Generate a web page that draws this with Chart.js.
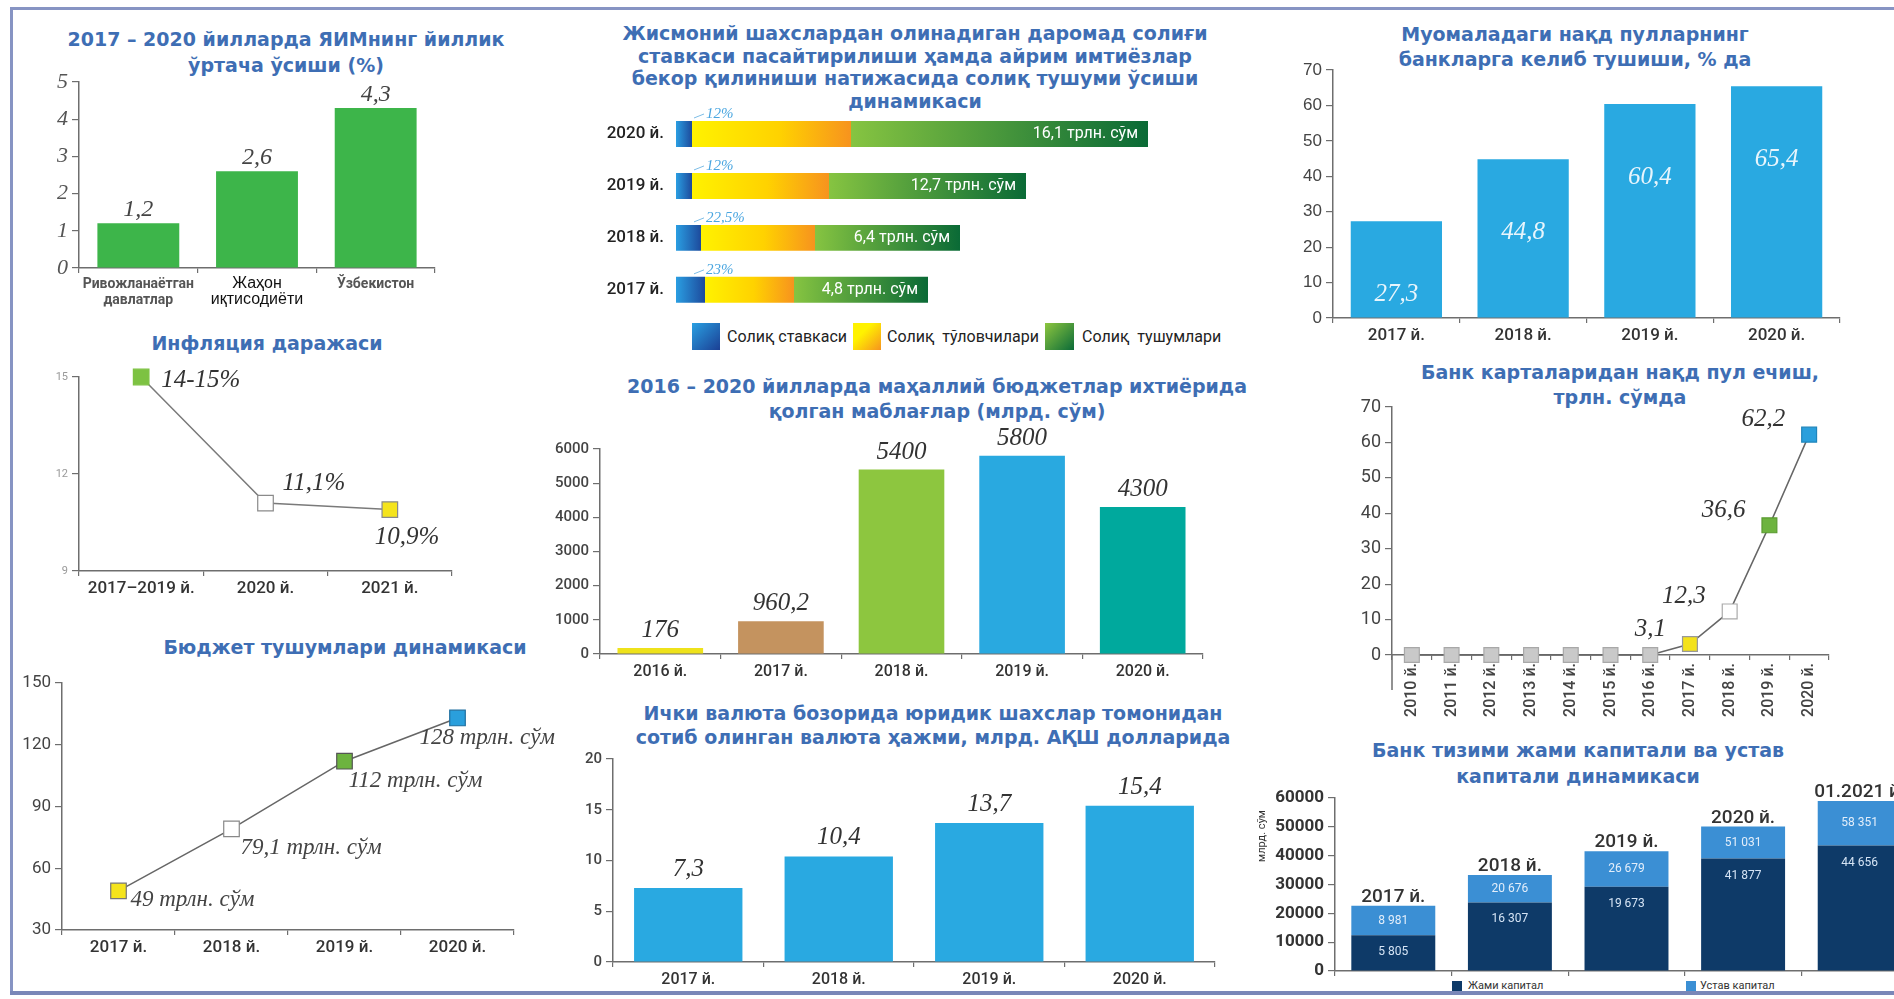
<!DOCTYPE html>
<html>
<head>
<meta charset="utf-8">
<script src="https://cdn.jsdelivr.net/npm/chart.js@4.4.0/dist/chart.umd.min.js"></script>
<style>
  html, body { margin: 0; padding: 0; background: #fff; }
  body { position: relative; width: 1894px; height: 999px; overflow: hidden; }
  .box { position: absolute; }
  .title { position: absolute; width: 800px; text-align: center; font: bold 19px "DejaVu Sans", sans-serif; color: #3e6eb4; white-space: nowrap; }
  .frame { position: absolute; background: #8794c3; }
  .sq { position: absolute; }
  .lg { position: absolute; font: 16px Roboto, sans-serif; color: #222; white-space: pre; }
  .lg2 { position: absolute; font: 11px Roboto, sans-serif; color: #333; }
</style>
</head>
<body>
<div class="frame" style="left:10px;top:7px;width:1884px;height:3px;"></div>
<div class="frame" style="left:10px;top:7px;width:3px;height:988px;"></div>
<div class="frame" style="left:10px;top:991px;width:1884px;height:4px;background:#7a87b8;"></div>

<div class="title" style="left:-114px;top:26px;line-height:26px;">2017 – 2020 йилларда ЯИМнинг йиллик<br>ўртача ўсиши (%)</div>
<div class="title" style="left:-133px;top:330px;line-height:26px;">Инфляция даражаси</div>
<div class="title" style="left:-55px;top:634px;line-height:26px;">Бюджет тушумлари динамикаси</div>
<div class="title" style="left:515px;top:22px;line-height:22.5px;">Жисмоний шахслардан олинадиган даромад солиғи<br>ставкаси пасайтирилиши ҳамда айрим имтиёзлар<br>бекор қилиниши натижасида солиқ тушуми ўсиши<br>динамикаси</div>
<div class="title" style="left:537px;top:374px;line-height:25px;">2016 – 2020 йилларда маҳаллий бюджетлар ихтиёрида<br>қолган маблағлар (млрд. сўм)</div>
<div class="title" style="left:533px;top:701px;line-height:24px;">Ички валюта бозорида юридик шахслар томонидан<br>сотиб олинган валюта ҳажми, млрд.  АҚШ долларида</div>
<div class="title" style="left:1175px;top:22px;line-height:25px;">Муомаладаги нақд пулларнинг<br>банкларга келиб тушиши, % да</div>
<div class="title" style="left:1220px;top:360px;line-height:25px;">Банк карталаридан нақд пул ечиш,<br>трлн.  сўмда</div>
<div class="title" style="left:1178px;top:737px;line-height:26px;">Банк тизими жами капитали ва устав<br>капитали динамикаси</div>

<!-- tax chart legend -->
<div class="sq" style="left:692px;top:323px;width:28px;height:27px;background:linear-gradient(135deg,#2aa0e2,#1b3f94);"></div>
<div class="lg" style="left:727px;top:327px;">Солиқ ставкаси</div>
<div class="sq" style="left:853px;top:323px;width:28px;height:27px;background:linear-gradient(135deg,#fff200 35%,#f7931e);"></div>
<div class="lg" style="left:887px;top:327px;">Солиқ  тўловчилари</div>
<div class="sq" style="left:1045px;top:323px;width:29px;height:27px;background:linear-gradient(135deg,#8dc63f,#0b6b38);"></div>
<div class="lg" style="left:1082px;top:327px;">Солиқ  тушумлари</div>

<!-- capital chart legend -->
<div class="sq" style="left:1452px;top:981px;width:10px;height:10px;background:#0e3a68;"></div>
<div class="lg2" style="left:1468px;top:979px;">Жами капитал</div>
<div class="sq" style="left:1686px;top:981px;width:10px;height:10px;background:#3b8fd4;"></div>
<div class="lg2" style="left:1700px;top:979px;">Устав капитал</div>

<div class="box" style="left:15px;top:40px;width:440px;height:280px;"><canvas id="gdp"></canvas></div>
<div class="box" style="left:15px;top:355px;width:460px;height:250px;"><canvas id="infl"></canvas></div>
<div class="box" style="left:10px;top:660px;width:560px;height:305px;"><canvas id="bud"></canvas></div>
<div class="box" style="left:590px;top:90px;width:600px;height:240px;"><canvas id="tax"></canvas></div>
<div class="box" style="left:540px;top:420px;width:680px;height:270px;"><canvas id="local"></canvas></div>
<div class="box" style="left:555px;top:745px;width:675px;height:254px;"><canvas id="fx"></canvas></div>
<div class="box" style="left:1270px;top:50px;width:590px;height:300px;"><canvas id="cash"></canvas></div>
<div class="box" style="left:1280px;top:385px;width:570px;height:350px;"><canvas id="card"></canvas></div>
<div class="box" style="left:1250px;top:760px;width:680px;height:239px;"><canvas id="cap"></canvas></div>

<script>
// ---- data ----
const gdpCats = [['Ривожланаётган', 'давлатлар'], ['Жаҳон', 'иқтисодиёти'], ['Ўзбекистон']];
const gdpValues = [1.2, 2.6, 4.3];
const gdpLabels = ['1,2', '2,6', '4,3'];

const inflCats = ['2017–2019 й.', '2020 й.', '2021 й.'];
const inflValues = [15, 11.1, 10.9];
const inflLabels = ['14-15%', '11,1%', '10,9%'];

const budCats = ['2017 й.', '2018 й.', '2019 й.', '2020 й.'];
const budValues = [49, 79.1, 112, 133];
const budLabels = ['49 трлн. сўм', '79,1 трлн. сўм', '112 трлн. сўм', '128 трлн. сўм'];

// the tax bars have no axis: lengths are read off the picture
const taxYears = ['2020 й.', '2019 й.', '2018 й.', '2017 й.'];
const taxRate = [16, 16, 25, 29];
const taxPayers = [159, 137, 114, 89];
const taxRevenue = [297, 197, 145, 134];
const taxRateLabels = ['12%', '12%', '22,5%', '23%'];
const taxRevenueLabels = ['16,1 трлн. сўм', '12,7 трлн. сўм', '6,4 трлн. сўм', '4,8 трлн. сўм'];

const localYears = ['2016 й.', '2017 й.', '2018 й.', '2019 й.', '2020 й.'];
const localValues = [176, 960.2, 5400, 5800, 4300];
const localLabels = ['176', '960,2', '5400', '5800', '4300'];

const fxYears = ['2017 й.', '2018 й.', '2019 й.', '2020 й.'];
const fxValues = [7.3, 10.4, 13.7, 15.4];
const fxLabels = ['7,3', '10,4', '13,7', '15,4'];

const cashYears = ['2017 й.', '2018 й.', '2019 й.', '2020 й.'];
const cashValues = [27.3, 44.8, 60.4, 65.4];
const cashLabels = ['27,3', '44,8', '60,4', '65,4'];

const cardYears = ['2010 й.', '2011 й.', '2012 й.', '2013 й.', '2014 й.', '2015 й.', '2016 й.', '2017 й.', '2018 й.', '2019 й.', '2020 й.'];
const cardValues = [0, 0, 0, 0, 0, 0, 0, 3.1, 12.3, 36.6, 62.2];
const cardLabels = [null, null, null, null, null, null, null, '3,1', '12,3', '36,6', '62,2'];

const capYears = ['2017 й.', '2018 й.', '2019 й.', '2020 й.', '01.2021 й.'];
const capTotal = [12400, 23800, 29200, 39000, 43500];
const capCharter = [10200, 9500, 12300, 11100, 15500];
const capTotalLabels = ['5 805', '16 307', '19 673', '41 877', '44 656'];
const capCharterLabels = ['8 981', '20 676', '26 679', '51 031', '58 351'];

// ---- common ----
const AX = '#6e6e6e';
const SANS = 'Roboto, "Noto Sans", sans-serif';
const SERIF = '"Liberation Serif", "DejaVu Serif", serif';

Chart.defaults.animation = false;
Chart.defaults.responsive = true;
Chart.defaults.maintainAspectRatio = false;
Chart.defaults.events = [];
Chart.defaults.plugins.legend.display = false;
Chart.defaults.plugins.tooltip.enabled = false;
Chart.defaults.font.family = SANS;

function fixW(w) { return s => { s.width = w; }; }
function fixH(h) { return s => { s.height = h; }; }

function catAxis(h, font, color, extra) {
    return Object.assign({
        afterFit: fixH(h),
        grid: { display: true, drawOnChartArea: false, tickLength: 5, color: AX, lineWidth: 1.2, offset: true },
        border: { display: true, color: AX, width: 1.5 },
        ticks: { font: font, color: color, padding: 3, autoSkip: false, maxRotation: 0 }
    }, extra || {});
}

function valAxis(w, min, max, step, font, color) {
    return {
        min: min, max: max, afterFit: fixW(w),
        grid: { display: true, drawOnChartArea: false, tickLength: 7, color: AX, lineWidth: 1.2 },
        border: { display: true, color: AX, width: 1.5 },
        ticks: { stepSize: step, font: font, color: color, padding: 4, callback: v => String(v) }
    };
}

// text next to every element of one dataset; place(el, i) -> {x, y, align, base}
function labelPlugin(id, texts, font, color, place, dsIndex) {
    return {
        id: id,
        afterDatasetsDraw(chart) {
            const ctx = chart.ctx;
            const meta = chart.getDatasetMeta(dsIndex || 0);
            ctx.save();
            ctx.font = font;
            ctx.fillStyle = color;
            meta.data.forEach((el, i) => {
                if (texts[i] == null) return;
                const p = place(el, i);
                ctx.textAlign = p.align || 'center';
                ctx.textBaseline = p.base || 'alphabetic';
                ctx.fillText(texts[i], p.x, p.y);
            });
            ctx.restore();
        }
    };
}

const tickYear = { family: SANS, size: 17, weight: '500' };

// ---- 1. GDP growth ----
new Chart(document.getElementById('gdp'), {
    type: 'bar',
    data: { labels: gdpCats, datasets: [{ data: gdpValues, backgroundColor: '#3db54a', categoryPercentage: 1, barPercentage: 0.69 }] },
    options: {
        layout: { padding: { top: 42, right: 20, left: 0, bottom: 0 } },
        scales: {
            x: catAxis(52,
                c => c.index === 1 ? { family: '"Liberation Sans", sans-serif', size: 16, weight: 'normal', lineHeight: 1.0 }
                                   : { family: SANS, size: 14, weight: 'bold', lineHeight: 1.15 },
                c => c.index === 1 ? '#111' : '#555'),
            y: valAxis(64, 0, 5, 1, { family: SERIF, size: 22, style: 'italic' }, '#555')
        }
    },
    plugins: [labelPlugin('gdpVal', gdpLabels, 'italic 24px ' + SERIF, '#444', el => ({ x: el.x, y: el.y - 7 }))]
});

// ---- 2. Inflation ----
const inflPlace = [[20, 3, 'left'], [17, -20, 'left'], [-15, 28, 'left']];
new Chart(document.getElementById('infl'), {
    type: 'line',
    data: {
        labels: inflCats,
        datasets: [{
            data: inflValues, borderColor: '#7a7a7a', borderWidth: 1.5, clip: false,
            pointStyle: 'rect', pointRadius: 11, pointBorderWidth: 1.2,
            pointBackgroundColor: ['#7dc242', '#ffffff', '#f5e41c'],
            pointBorderColor: ['#7dc242', '#8a8a8a', '#8a8a8a']
        }]
    },
    options: {
        layout: { padding: { top: 22, right: 23, left: 0, bottom: 0 } },
        scales: {
            x: catAxis(34, tickYear, '#333', { offset: true }),
            y: valAxis(64, 9, 15, 3, { family: SANS, size: 11 }, '#999')
        }
    },
    plugins: [labelPlugin('inflVal', inflLabels, 'italic 25px ' + SERIF, '#333', (el, i) => ({
        x: el.x + inflPlace[i][0], y: el.y + inflPlace[i][1], align: inflPlace[i][2], base: 'middle'
    }))]
});

// ---- 3. Budget revenues ----
const budPlace = [[12, 9], [9, 19], [4, 20], [-38, 20]];
new Chart(document.getElementById('bud'), {
    type: 'line',
    data: {
        labels: budCats,
        datasets: [{
            data: budValues, borderColor: '#666', borderWidth: 1.5, clip: false,
            pointStyle: 'rect', pointRadius: 11, pointBorderWidth: 1.2,
            pointBackgroundColor: ['#f5e41c', '#ffffff', '#6db33f', '#2a9fdc'],
            pointBorderColor: ['#777', '#888', '#555', '#1f6f9f']
        }]
    },
    options: {
        layout: { padding: { top: 23, right: 56, left: 0, bottom: 0 } },
        scales: {
            x: catAxis(35, tickYear, '#333', { offset: true }),
            y: valAxis(52, 30, 150, 30, { family: SANS, size: 17 }, '#444')
        }
    },
    plugins: [labelPlugin('budVal', budLabels, 'italic 23px ' + SERIF, '#444', (el, i) => ({
        x: el.x + budPlace[i][0], y: el.y + budPlace[i][1], align: 'left', base: 'middle'
    }))]
});

// ---- 4. Income tax ----
const taxPayStart = taxRate.slice();
const taxRevStart = taxRate.map((v, i) => v + taxPayers[i]);
function segGrad(stops, starts, lens) {
    return c => {
        const chart = c.chart;
        if (!chart.chartArea) return stops[0][1];
        const xs = chart.scales.x;
        const i = c.dataIndex;
        const x0 = xs.getPixelForValue(starts[i]);
        const x1 = xs.getPixelForValue(starts[i] + lens[i]);
        const g = chart.ctx.createLinearGradient(x0, 0, x1, 0);
        stops.forEach(s => g.addColorStop(s[0], s[1]));
        return g;
    };
}
new Chart(document.getElementById('tax'), {
    type: 'bar',
    data: {
        labels: taxYears,
        datasets: [
            { data: taxRate, backgroundColor: segGrad([[0, '#2a9ee2'], [1, '#1d4a9c']], taxRate.map(() => 0), taxRate) },
            { data: taxPayers, backgroundColor: segGrad([[0, '#fff200'], [0.55, '#ffd200'], [1, '#f7931e']], taxPayStart, taxPayers) },
            { data: taxRevenue, backgroundColor: segGrad([[0, '#86c441'], [1, '#0a6a36']], taxRevStart, taxRevenue) }
        ]
    },
    options: {
        indexAxis: 'y',
        datasets: { bar: { categoryPercentage: 1, barPercentage: 0.5 } },
        layout: { padding: { top: 18, right: 14, left: 0, bottom: 7 } },
        scales: {
            x: { display: false, stacked: true, min: 0, max: 500 },
            y: {
                stacked: true, afterFit: fixW(86),
                grid: { display: false }, border: { display: false },
                ticks: { font: { family: SANS, size: 17, weight: '500' }, color: '#222', padding: 4 }
            }
        }
    },
    plugins: [
        labelPlugin('taxRev', taxRevenueLabels, '16px ' + SANS, '#ffffff', el => ({ x: el.x - 10, y: el.y, align: 'right', base: 'middle' }), 2),
        {
            id: 'taxRate',
            afterDatasetsDraw(chart) {
                const ctx = chart.ctx;
                ctx.save();
                ctx.font = 'italic 15px ' + SERIF;
                ctx.fillStyle = '#4aa6e0';
                ctx.strokeStyle = '#7dbde6';
                ctx.lineWidth = 1;
                chart.getDatasetMeta(0).data.forEach((el, i) => {
                    const top = el.y - el.height / 2;
                    ctx.beginPath();
                    ctx.moveTo(el.base + 18, top - 3);
                    ctx.lineTo(el.base + 28, top - 7);
                    ctx.stroke();
                    ctx.textAlign = 'left';
                    ctx.textBaseline = 'alphabetic';
                    ctx.fillText(taxRateLabels[i], el.base + 30, top - 3);
                });
                ctx.restore();
            }
        }
    ]
});

// ---- 5. Local budgets ----
new Chart(document.getElementById('local'), {
    type: 'bar',
    data: {
        labels: localYears,
        datasets: [{ data: localValues, backgroundColor: ['#eee21b', '#c4935f', '#8dc63f', '#29a9e0', '#00a99d'], categoryPercentage: 1, barPercentage: 0.71 }]
    },
    options: {
        layout: { padding: { top: 29, right: 17, left: 0, bottom: 0 } },
        scales: {
            x: catAxis(36, { family: SANS, size: 16, weight: '500' }, '#333'),
            y: valAxis(60, 0, 6000, 1000, { family: SANS, size: 15, weight: '500' }, '#444')
        }
    },
    plugins: [labelPlugin('localVal', localLabels, 'italic 25px ' + SERIF, '#333', el => ({ x: el.x, y: el.y - 11 }))]
});

// ---- 6. FX purchases ----
new Chart(document.getElementById('fx'), {
    type: 'bar',
    data: { labels: fxYears, datasets: [{ data: fxValues, backgroundColor: '#29a9e1', categoryPercentage: 1, barPercentage: 0.72 }] },
    options: {
        layout: { padding: { top: 14, right: 15, left: 0, bottom: 0 } },
        scales: {
            x: catAxis(37, { family: SANS, size: 16, weight: '500' }, '#333'),
            y: valAxis(58, 0, 20, 5, { family: SANS, size: 15, weight: '500' }, '#444')
        }
    },
    plugins: [labelPlugin('fxVal', fxLabels, 'italic 25px ' + SERIF, '#333', el => ({ x: el.x, y: el.y - 12 }))]
});

// ---- 7. Cash to banks ----
new Chart(document.getElementById('cash'), {
    type: 'bar',
    data: { labels: cashYears, datasets: [{ data: cashValues, backgroundColor: '#29a9e1', categoryPercentage: 1, barPercentage: 0.72 }] },
    options: {
        layout: { padding: { top: 20, right: 20, left: 0, bottom: 0 } },
        scales: {
            x: catAxis(32, tickYear, '#333'),
            y: valAxis(63, 0, 70, 10, { family: '"Liberation Sans", sans-serif', size: 17 }, '#444')
        }
    },
    plugins: [labelPlugin('cashVal', cashLabels, 'italic 25px ' + SERIF, '#e8f5fc', el => ({ x: el.x, y: el.y + 80 }))]
});

// ---- 8. Card withdrawals ----
new Chart(document.getElementById('card'), {
    type: 'line',
    data: {
        labels: cardYears,
        datasets: [{
            data: cardValues, borderColor: '#666', borderWidth: 1.5, clip: false,
            pointStyle: 'rect', pointRadius: 10.5, pointBorderWidth: 1.2,
            pointBackgroundColor: ['#c9c9c9', '#c9c9c9', '#c9c9c9', '#c9c9c9', '#c9c9c9', '#c9c9c9', '#c9c9c9', '#f4e21b', '#ffffff', '#6db33f', '#2a9fdc'],
            pointBorderColor: ['#a8a8a8', '#a8a8a8', '#a8a8a8', '#a8a8a8', '#a8a8a8', '#a8a8a8', '#a8a8a8', '#999', '#aaa', '#5a9a30', '#1f85bb']
        }]
    },
    options: {
        layout: { padding: { top: 22, right: 21, left: 0, bottom: 0 } },
        scales: {
            x: catAxis(80, { family: SANS, size: 16, weight: '500' }, '#444', { offset: true }),
            y: valAxis(112, 0, 70, 10, { family: SANS, size: 18 }, '#444')
        }
    },
    plugins: [
        labelPlugin('cardVal', cardLabels, 'italic 25px ' + SERIF, '#333', el => ({ x: el.x - 24, y: el.y - 15, align: 'right', base: 'middle' })),
        {
            id: 'axisTail',
            afterDraw(chart) {
                const ctx = chart.ctx, ca = chart.chartArea;
                ctx.save();
                ctx.strokeStyle = AX;
                ctx.lineWidth = 1.5;
                ctx.beginPath();
                ctx.moveTo(ca.left, ca.bottom);
                ctx.lineTo(ca.left, ca.bottom + 35);
                ctx.stroke();
                ctx.restore();
            }
        }
    ]
});
// rotate the year labels of the card chart
(function () {
    const ch = Chart.getChart('card');
    ch.options.scales.x.ticks.maxRotation = 90;
    ch.options.scales.x.ticks.minRotation = 90;
    ch.update();
})();

// ---- 9. Bank capital ----
new Chart(document.getElementById('cap'), {
    type: 'bar',
    data: {
        labels: capYears,
        datasets: [
            { label: 'Жами капитал', data: capTotal, backgroundColor: '#0e3a68' },
            { label: 'Устав капитал', data: capCharter, backgroundColor: '#3b8fd4' }
        ]
    },
    options: {
        datasets: { bar: { categoryPercentage: 1, barPercentage: 0.72 } },
        layout: { padding: { top: 38, right: 12, left: 0, bottom: 0 } },
        scales: {
            x: Object.assign(catAxis(28, tickYear, '#333'), { stacked: true }),
            y: Object.assign(valAxis(85, 0, 60000, 10000, { family: SANS, size: 17, weight: 'bold' }, '#333'), { stacked: true })
        }
    },
    plugins: [
        labelPlugin('capYear', capYears, '500 19px ' + SANS, '#333', el => ({ x: el.x, y: el.y - 4 }), 1),
        labelPlugin('capCh', capCharterLabels, '12px ' + SANS, '#e3eefa', el => ({ x: el.x, y: (el.y + el.base) / 2, base: 'middle' }), 1),
        labelPlugin('capTot', capTotalLabels, '12px ' + SANS, '#d5e4f5', el => ({ x: el.x, y: el.y + 17, base: 'middle' }), 0),
        {
            id: 'capTitle',
            afterDraw(chart) {
                const ctx = chart.ctx, ca = chart.chartArea;
                ctx.save();
                ctx.translate(ca.left - 73, ca.top + 38);
                ctx.rotate(-Math.PI / 2);
                ctx.font = '11px ' + SANS;
                ctx.fillStyle = '#333';
                ctx.textAlign = 'center';
                ctx.textBaseline = 'middle';
                ctx.fillText('млрд. сўм', 0, 0);
                ctx.restore();
            }
        }
    ]
});
Chart.getChart('cap').options.scales.x.ticks.display = false;
Chart.getChart('cap').update();
</script>
</body>
</html>
